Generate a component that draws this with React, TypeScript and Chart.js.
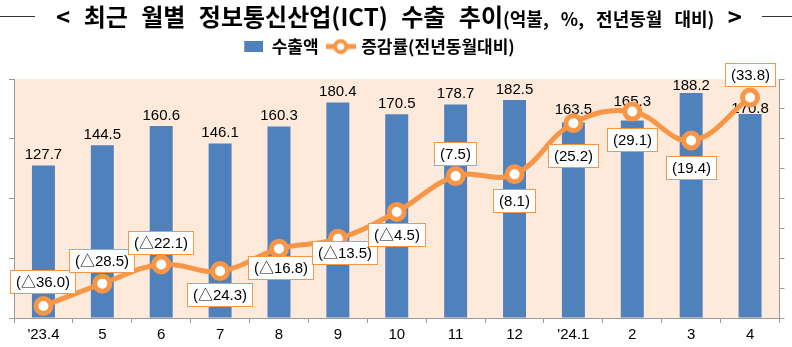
import { useEffect, useRef } from "react";
import { Chart, registerables } from "chart.js";

Chart.register(...registerables);

const categories = ["'23.4", "5", "6", "7", "8", "9", "10", "11", "12", "'24.1", "2", "3", "4"];
const exportValues = [127.7, 144.5, 160.6, 146.1, 160.3, 180.4, 170.5, 178.7, 182.5, 163.5, 165.3, 188.2, 170.8];
const growthRates = [-36.0, -28.5, -22.1, -24.3, -16.8, -13.5, -4.5, 7.5, 8.1, 25.2, 29.1, 19.4, 33.8];
// label placement for the growth-rate boxes (vertical / horizontal shift from the point, px)
const growthLabelDy = [-24, -23, -22, 24, 19, 14, 23, -22, 27, 33, 28, 27, -23];
const growthLabelDx = [0, 0, 0, 0, 2, 7, 0, 0, 0, 0, 0, 0, 0];
// gap between bar top and its value label baseline, px
const barLabelGap = [6, 6, 6, 6, 6, 6, 6, 6, 6, 9, 14, 3, 1];

const seriesNames = ["수출액", "증감률(전년동월대비)"];
const titleMain = "< 최근 월별 정보통신산업(ICT) 수출 추이";
const titleUnit = "(억불, %, 전년동월 대비)";
const titleEnd = " >";

const BLUE = "#4F81BD";
const ORANGE = "#F79646";
const PEACH = "#FDEADA";
const AXIS = "#9A9A9A";
const NUM_FONT = "'Liberation Sans', Arial, 'Noto Sans CJK KR', sans-serif";
const KR_FONT = "'Noto Sans CJK KR', 'Noto Sans', sans-serif";

function fmtGrowth(v: number) {
  return v < 0 ? `(△${Math.abs(v).toFixed(1)})` : `(${v.toFixed(1)})`;
}

const customPlugin = {
  id: "customDecor",
  beforeLayout(chart: any) {
    const lg = chart.legend;
    if (lg && !lg.__patched) {
      const origFit = lg.fit;
      lg.fit = function () {
        origFit.call(this);
        this.height += 14;
      };
      lg.__patched = true;
    }
  },
  afterLayout(chart: any) {
    const lg = chart.legend;
    if (lg) {
      lg.left -= 19;
      lg.right -= 19;
    }
  },
  beforeDraw(chart: any) {
    const { ctx, chartArea } = chart;
    ctx.save();
    ctx.fillStyle = PEACH;
    ctx.fillRect(chartArea.left, chartArea.top, chartArea.right - chartArea.left, chartArea.bottom - chartArea.top);

    // title
    const bigFont = `bold 24px ${KR_FONT}`;
    const smallFont = `bold 18px ${KR_FONT}`;
    ctx.textBaseline = "alphabetic";
    ctx.textAlign = "left";
    ctx.fillStyle = "#000";
    try { (ctx as any).wordSpacing = "8px"; } catch (e) {}
    ctx.font = bigFont;
    const w1 = ctx.measureText(titleMain).width;
    const w3 = ctx.measureText(titleEnd).width;
    ctx.font = smallFont;
    const w2 = ctx.measureText(titleUnit).width;
    const total = w1 + w2 + w3;
    let x = 399 - total / 2;
    const base = 26;
    ctx.font = bigFont;
    ctx.fillText(titleMain, x, base);
    x += w1;
    ctx.font = smallFont;
    ctx.fillText(titleUnit, x, base);
    x += w2;
    ctx.font = bigFont;
    ctx.fillText(titleEnd, x, base);
    try { (ctx as any).wordSpacing = "0px"; } catch (e) {}

    ctx.strokeStyle = "#333";
    ctx.lineWidth = 1;
    ctx.beginPath();
    ctx.moveTo(0, 16.5);
    ctx.lineTo(35, 16.5);
    ctx.moveTo(762, 16.5);
    ctx.lineTo(792, 16.5);
    ctx.stroke();
    ctx.restore();
  },
  afterDatasetDraw(chart: any, args: any) {
    if (args.index !== 0) return;
    const { ctx } = chart;
    const meta = chart.getDatasetMeta(0);
    ctx.save();
    ctx.font = `15px ${NUM_FONT}`;
    ctx.fillStyle = "#000";
    ctx.textAlign = "center";
    ctx.textBaseline = "alphabetic";
    meta.data.forEach((bar: any, i: number) => {
      ctx.fillText(exportValues[i].toFixed(1), bar.x, bar.y - barLabelGap[i]);
    });
    ctx.restore();
  },
  afterDatasetsDraw(chart: any) {
    const { ctx } = chart;
    const meta = chart.getDatasetMeta(1);
    ctx.save();
    ctx.font = `15px ${NUM_FONT}`;
    ctx.textAlign = "center";
    ctx.textBaseline = "middle";
    meta.data.forEach((pt: any, i: number) => {
      const text = fmtGrowth(growthRates[i]);
      const w = Math.round(ctx.measureText(text).width + 12);
      const h = 24;
      const cx = pt.x + growthLabelDx[i];
      const cy = pt.y + growthLabelDy[i];
      const lx = Math.round(cx - w / 2);
      const ty = Math.round(cy - h / 2);
      ctx.fillStyle = "#fff";
      ctx.fillRect(lx, ty, w, h);
      ctx.strokeStyle = ORANGE;
      ctx.lineWidth = 1;
      ctx.strokeRect(lx + 0.5, ty + 0.5, w - 1, h - 1);
      ctx.fillStyle = "#000";
      ctx.fillText(text, lx + w / 2, ty + h / 2 + 1);
    });
    ctx.restore();
  },
};

function makeBarIcon() {
  const c = document.createElement("canvas");
  c.width = 24;
  c.height = 11;
  const g = c.getContext("2d")!;
  g.fillStyle = BLUE;
  g.fillRect(5, 0, 19, 11);
  return c;
}

function makeLineIcon() {
  const c = document.createElement("canvas");
  c.width = 30;
  c.height = 16;
  const g = c.getContext("2d")!;
  g.strokeStyle = ORANGE;
  g.lineWidth = 5;
  g.beginPath();
  g.moveTo(0, 8);
  g.lineTo(30, 8);
  g.stroke();
  g.beginPath();
  g.arc(15, 8, 5.5, 0, Math.PI * 2);
  g.fillStyle = "#fff";
  g.fill();
  g.lineWidth = 4;
  g.stroke();
  return c;
}

export default function App() {
  const ref = useRef<HTMLCanvasElement | null>(null);

  useEffect(() => {
    if (!ref.current) return;
    const barIcon = makeBarIcon();
    const lineIcon = makeLineIcon();
    const chart = new Chart(ref.current, {
      type: "bar",
      data: {
        labels: categories,
        datasets: [
          {
            type: "bar",
            label: seriesNames[0],
            data: exportValues,
            backgroundColor: BLUE,
            borderWidth: 0,
            barPercentage: 0.39,
            categoryPercentage: 1,
            yAxisID: "y",
            order: 1,
          },
          {
            type: "line",
            label: seriesNames[1],
            data: growthRates,
            borderColor: ORANGE,
            borderWidth: 5,
            tension: 0.4,
            pointRadius: 7.5,
            pointHoverRadius: 7.5,
            pointBorderWidth: 5,
            pointBackgroundColor: "#fff",
            pointBorderColor: ORANGE,
            yAxisID: "y1",
            order: 0,
          } as any,
        ],
      },
      options: {
        animation: false,
        responsive: true,
        maintainAspectRatio: false,
        devicePixelRatio: 1,
        layout: { padding: { top: 28, left: 0, right: 0, bottom: 0 } },
        plugins: {
          tooltip: { enabled: false },
          title: { display: false },
          legend: {
            display: true,
            position: "top",
            labels: {
              usePointStyle: true,
              pointStyleWidth: 24,
              padding: 10,
              color: "#000",
              font: { family: KR_FONT, size: 17, weight: "bold" },
              generateLabels: (ch: any) => {
                const items = Chart.defaults.plugins.legend.labels.generateLabels(ch);
                items.sort((a: any, b: any) => a.datasetIndex - b.datasetIndex);
                items.forEach((it: any) => {
                  it.pointStyle = it.datasetIndex === 0 ? barIcon : lineIcon;
                  it.fontColor = "#000";
                });
                return items;
              },
            },
          },
        },
        scales: {
          x: {
            type: "category",
            offset: true,
            grid: {
              display: true,
              drawOnChartArea: false,
              drawTicks: true,
              tickLength: 5,
              color: AXIS,
              offset: true,
            },
            border: { display: true, color: AXIS, width: 1 },
            ticks: {
              color: "#000",
              font: { family: NUM_FONT, size: 15 },
              padding: 3,
              maxRotation: 0,
              autoSkip: false,
            },
            afterFit: (s: any) => {
              s.height = 29;
            },
          },
          y: {
            type: "linear",
            position: "left",
            min: 0,
            max: 200,
            ticks: { display: false, stepSize: 50 },
            grid: { drawOnChartArea: false, drawTicks: true, tickLength: 5, color: AXIS },
            border: { display: true, color: AXIS, width: 1 },
            afterFit: (s: any) => {
              s.width = 14;
            },
          },
          y1: {
            type: "linear",
            position: "right",
            min: -40,
            max: 40,
            ticks: { display: false, stepSize: 10 },
            grid: { drawOnChartArea: false, drawTicks: true, tickLength: 5, color: AXIS },
            border: { display: true, color: AXIS, width: 1 },
            afterFit: (s: any) => {
              s.width = 6;
            },
          },
        },
      },
      plugins: [customPlugin],
    });
    return () => chart.destroy();
  }, []);

  return (
    <div style={{ position: "absolute", left: 0, top: 0, width: 792, height: 347 }}>
      <canvas ref={ref} />
    </div>
  );
}
